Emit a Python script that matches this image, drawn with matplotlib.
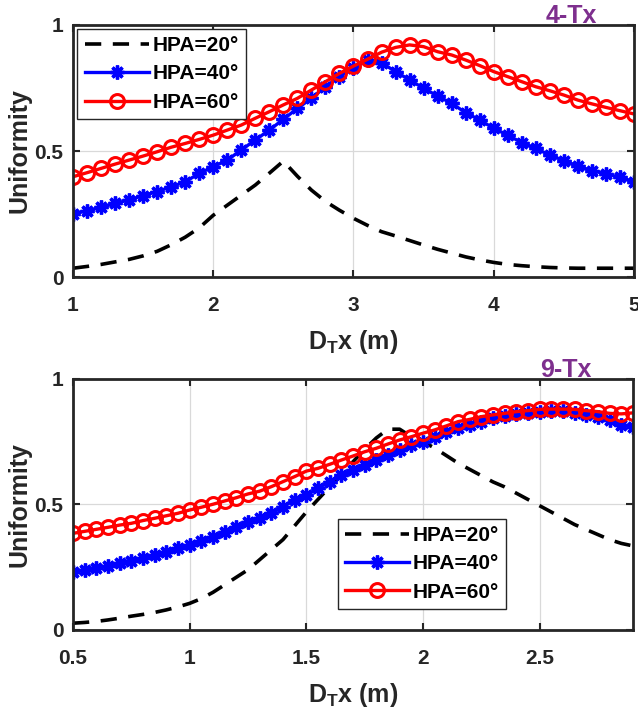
import numpy as np
import matplotlib
matplotlib.use("Agg")
import matplotlib.pyplot as plt

plt.rcParams['font.family'] = ['Liberation Sans', 'DejaVu Sans']
plt.rcParams['font.weight'] = 'bold'
plt.rcParams['mathtext.fontset'] = 'custom'
plt.rcParams['mathtext.bf'] = 'Liberation Sans:bold'
plt.rcParams['mathtext.rm'] = 'Liberation Sans:bold'
plt.rcParams['mathtext.default'] = 'bf'

# ---- dati 4-Tx ----
x_4tx = [1.0, 1.1, 1.2, 1.3, 1.4, 1.5, 1.6, 1.7, 1.8, 1.9,
         2.0, 2.1, 2.2, 2.3, 2.4, 2.5, 2.6, 2.7, 2.8, 2.9,
         3.0, 3.1, 3.2, 3.3, 3.4, 3.5, 3.6, 3.7, 3.8, 3.9,
         4.0, 4.1, 4.2, 4.3, 4.4, 4.5, 4.6, 4.7, 4.8, 4.9, 5.0]
hpa20_4tx = [0.035, 0.042, 0.050, 0.060, 0.070, 0.084, 0.102, 0.128, 0.158, 0.195,
             0.245, 0.285, 0.325, 0.365, 0.412, 0.460, 0.400, 0.345, 0.300, 0.265,
             0.233, 0.205, 0.180, 0.163, 0.145, 0.127, 0.110, 0.095, 0.080, 0.068,
             0.058, 0.050, 0.045, 0.041, 0.038, 0.036, 0.035, 0.035, 0.035, 0.035, 0.035]
hpa40_4tx = [0.250, 0.263, 0.276, 0.292, 0.306, 0.323, 0.339, 0.358, 0.378, 0.411,
             0.438, 0.464, 0.504, 0.544, 0.583, 0.626, 0.669, 0.709, 0.755, 0.795,
             0.828, 0.862, 0.850, 0.815, 0.782, 0.749, 0.718, 0.689, 0.652, 0.623,
             0.590, 0.563, 0.533, 0.510, 0.484, 0.462, 0.440, 0.422, 0.409, 0.396, 0.378]
hpa60_4tx = [0.398, 0.414, 0.431, 0.448, 0.464, 0.480, 0.497, 0.515, 0.530, 0.546,
             0.563, 0.583, 0.603, 0.630, 0.656, 0.683, 0.709, 0.742, 0.775, 0.808,
             0.837, 0.864, 0.892, 0.911, 0.921, 0.914, 0.894, 0.881, 0.861, 0.839,
             0.815, 0.795, 0.775, 0.755, 0.739, 0.722, 0.702, 0.687, 0.673, 0.660, 0.647]

# ---- dati 9-Tx ----
x_9tx = [0.50, 0.55, 0.60, 0.65, 0.70, 0.75, 0.80, 0.85, 0.90, 0.95,
         1.00, 1.05, 1.10, 1.15, 1.20, 1.25, 1.30, 1.35, 1.40, 1.45,
         1.50, 1.55, 1.60, 1.65, 1.70, 1.75, 1.80, 1.85, 1.90, 1.95,
         2.00, 2.05, 2.10, 2.15, 2.20, 2.25, 2.30, 2.35, 2.40, 2.45,
         2.50, 2.55, 2.60, 2.65, 2.70, 2.75, 2.80, 2.85, 2.90]
hpa20_9tx = [0.027, 0.030, 0.034, 0.040, 0.047, 0.055, 0.062, 0.070, 0.080, 0.092,
             0.106, 0.125, 0.150, 0.180, 0.210, 0.240, 0.280, 0.320, 0.360, 0.415,
             0.470, 0.520, 0.570, 0.620, 0.670, 0.720, 0.765, 0.800, 0.800, 0.770,
             0.750, 0.725, 0.695, 0.665, 0.640, 0.615, 0.590, 0.570, 0.545, 0.520,
             0.495, 0.470, 0.445, 0.420, 0.400, 0.380, 0.360, 0.345, 0.335]
hpa40_9tx = [0.232, 0.239, 0.246, 0.255, 0.266, 0.276, 0.286, 0.299, 0.312, 0.325,
             0.339, 0.356, 0.372, 0.389, 0.409, 0.429, 0.448, 0.465, 0.491, 0.518,
             0.536, 0.565, 0.591, 0.618, 0.637, 0.657, 0.677, 0.697, 0.717, 0.737,
             0.750, 0.770, 0.787, 0.804, 0.817, 0.830, 0.843, 0.853, 0.861, 0.866,
             0.870, 0.873, 0.873, 0.866, 0.857, 0.847, 0.837, 0.817, 0.808]
hpa60_9tx = [0.385, 0.393, 0.401, 0.409, 0.418, 0.425, 0.436, 0.445, 0.455, 0.465,
             0.478, 0.489, 0.501, 0.514, 0.527, 0.542, 0.553, 0.571, 0.591, 0.611,
             0.633, 0.644, 0.660, 0.677, 0.693, 0.710, 0.724, 0.741, 0.757, 0.770,
             0.784, 0.797, 0.813, 0.830, 0.839, 0.850, 0.857, 0.863, 0.870, 0.874,
             0.879, 0.880, 0.880, 0.879, 0.874, 0.870, 0.863, 0.861, 0.865]

etichette = ['HPA=20°', 'HPA=40°', 'HPA=60°']
testo = '#262626'
viola = '#7E2F8E'
asterisco = (8, 2, 0)

fig = plt.figure(figsize=(6.38, 7.08), dpi=100)
ax1 = fig.add_axes([0.1144, 0.6087, 0.8793, 0.3560])
ax2 = fig.add_axes([0.1144, 0.1102, 0.8777, 0.3545])


def disegna(ax, x, y20, y40, y60):
    ax.plot(x, y20, color='black', linestyle=(0, (4.5, 3.2)), linewidth=2.6, label=etichette[0])
    ax.plot(x, y40, color='blue', linewidth=2.4, marker=asterisco, markersize=10,
            markeredgewidth=2.4, label=etichette[1])
    ax.plot(x, y60, color='red', linewidth=2.4, marker='o', markersize=10,
            markerfacecolor='none', markeredgewidth=2.2, label=etichette[2])
    ax.set_ylim(0, 1)
    ax.set_yticks([0, 0.5, 1])
    ax.set_yticklabels(['0', '0.5', '1'])
    ax.grid(True, color='#d9d9d9', linewidth=0.9)
    ax.set_axisbelow(True)
    ax.tick_params(direction='in', top=True, right=True, length=5, width=1.5,
                   labelsize=15, colors=testo)
    ax.tick_params(axis='x', pad=14)
    ax.tick_params(axis='y', pad=7)
    for s in ax.spines.values():
        s.set_linewidth(2)
        s.set_color(testo)
    ax.set_ylabel('Uniformity', fontsize=18, fontweight='bold', color=testo, labelpad=2)
    ax.set_xlabel(r'D$_\mathbf{T}$x (m)', fontsize=18, fontweight='bold', color=testo, labelpad=9)


def legenda(ax, **kw):
    ax.legend(handlelength=3.1, frameon=True, fancybox=False, edgecolor=testo,
              framealpha=1, borderpad=0.35, labelspacing=0.45, handletextpad=0.15,
              borderaxespad=0.0, prop={'weight': 'bold', 'size': 15}, **kw)


# 1. 4-Tx
disegna(ax1, x_4tx, hpa20_4tx, hpa40_4tx, hpa60_4tx)
ax1.set_xlim(1, 5)
ax1.set_xticks([1, 2, 3, 4, 5])
for lab in ax1.get_xticklabels() + ax1.get_yticklabels():
    lab.set_fontweight('bold')
legenda(ax1, loc='upper left', bbox_to_anchor=(0.008, 0.985))
ax1.text(0.889, 0.988, '4-Tx', transform=ax1.transAxes, color=viola,
         fontsize=18, fontweight='bold', ha='center', va='bottom')

# 2. 9-Tx
disegna(ax2, x_9tx, hpa20_9tx, hpa40_9tx, hpa60_9tx)
ax2.set_xlim(0.5, 2.9)
ax2.set_xticks([0.5, 1, 1.5, 2, 2.5])
ax2.set_xticklabels(['0.5', '1', '1.5', '2', '2.5'])
for lab in ax2.get_xticklabels() + ax2.get_yticklabels():
    lab.set_fontweight('bold')
legenda(ax2, loc='lower center', bbox_to_anchor=(0.623, 0.084))
ax2.text(0.88, 0.988, '9-Tx', transform=ax2.transAxes, color=viola,
         fontsize=18, fontweight='bold', ha='center', va='bottom')

fig.savefig('out.png', dpi=100)
